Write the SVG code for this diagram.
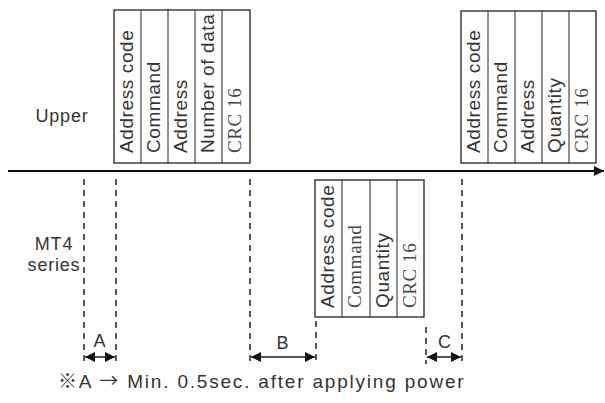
<svg xmlns="http://www.w3.org/2000/svg" width="605" height="403" viewBox="0 0 605 403">
<defs>
<style>
.lbl{font-family:"Liberation Sans",Arial,"Noto Sans CJK KR",sans-serif;font-size:18px;fill:#333;letter-spacing:0.8px}
.foot{font-family:"Liberation Sans",Arial,"Noto Sans CJK KR",sans-serif;font-size:19px;fill:#333;letter-spacing:1.8px}
.cjk{font-family:"Noto Sans CJK KR",sans-serif}
.cell{font-family:"Liberation Sans",Arial,sans-serif;font-size:19px;fill:#333;letter-spacing:0.6px}
.ser{font-family:"Liberation Serif","Times New Roman",serif;font-size:19px;fill:#444;letter-spacing:0.6px}
.box{fill:#fff;stroke:#222;stroke-width:1.3}
.div{stroke:#222;stroke-width:1}
.dash{stroke:#222;stroke-width:1.5;stroke-dasharray:6,5;fill:none}
.dim{stroke:#222;stroke-width:1.5;fill:none}
</style>
<marker id="ah" viewBox="0 0 10 10" refX="10" refY="5" markerWidth="10" markerHeight="10" markerUnits="userSpaceOnUse" orient="auto-start-reverse">
<path d="M0,0 L10,5 L0,10 z" fill="#111"/>
</marker>
<marker id="ax" viewBox="0 0 10 10" refX="10" refY="5" markerWidth="10" markerHeight="10" markerUnits="userSpaceOnUse" orient="auto">
<path d="M0,0 L10,5 L0,10 z" fill="#111"/>
</marker>
</defs>
<rect width="605" height="403" fill="#fff"/>

<g id="label-upper"><text class="lbl" x="62" y="122" text-anchor="middle">Upper</text></g>
<g id="label-mt4"><text class="lbl" x="54" y="250" text-anchor="middle">MT4</text><text class="lbl" x="54" y="271" text-anchor="middle">series</text></g>

<g id="upper-frame-1">
<rect class="box" x="114" y="10" width="136" height="153"/>
<line class="div" x1="141" y1="10" x2="141" y2="163"/>
<line class="div" x1="168" y1="10" x2="168" y2="163"/>
<line class="div" x1="195" y1="10" x2="195" y2="163"/>
<line class="div" x1="222" y1="10" x2="222" y2="163"/>
<text class="cell" transform="translate(133,153) rotate(-90)">Address code</text>
<text class="cell" transform="translate(160,153) rotate(-90)">Command</text>
<text class="cell" transform="translate(187,153) rotate(-90)">Address</text>
<text class="cell" transform="translate(214,153) rotate(-90)" letter-spacing="0.2">Number of data</text>
<text class="ser" transform="translate(241,153) rotate(-90)">CRC 16</text>
</g>

<g id="upper-frame-2">
<rect class="box" x="461" y="11" width="135" height="152"/>
<line class="div" x1="488" y1="11" x2="488" y2="163"/>
<line class="div" x1="515" y1="11" x2="515" y2="163"/>
<line class="div" x1="542" y1="11" x2="542" y2="163"/>
<line class="div" x1="569" y1="11" x2="569" y2="163"/>
<text class="cell" transform="translate(480,153) rotate(-90)">Address code</text>
<text class="cell" transform="translate(507,153) rotate(-90)">Command</text>
<text class="cell" transform="translate(534,153) rotate(-90)">Address</text>
<text class="cell" transform="translate(561,153) rotate(-90)">Quantity</text>
<text class="ser" transform="translate(588,153) rotate(-90)">CRC 16</text>
</g>

<g id="mt4-frame">
<rect class="box" x="315" y="180" width="109" height="137"/>
<line class="div" x1="342" y1="180" x2="342" y2="317"/>
<line class="div" x1="370" y1="180" x2="370" y2="317"/>
<line class="div" x1="397" y1="180" x2="397" y2="317"/>
<text class="cell" transform="translate(334,308) rotate(-90)">Address code</text>
<text class="ser" transform="translate(361,308) rotate(-90)">Command</text>
<text class="cell" transform="translate(389,308) rotate(-90)">Quantity</text>
<text class="ser" transform="translate(416,308) rotate(-90)">CRC 16</text>
</g>

<g id="connectors">
<line x1="8" y1="171" x2="604" y2="171" stroke="#111" stroke-width="2" marker-end="url(#ax)"/>
<line class="dash" x1="84" y1="179" x2="84" y2="364"/>
<line class="dash" x1="116" y1="179" x2="116" y2="364"/>
<line class="dash" x1="250" y1="179" x2="250" y2="364"/>
<line class="dash" x1="316" y1="321" x2="316" y2="364"/>
<line class="dash" x1="426" y1="327" x2="426" y2="364"/>
<line class="dash" x1="462" y1="179" x2="462" y2="364"/>
<line class="dim" x1="85" y1="357" x2="115" y2="357" marker-start="url(#ah)" marker-end="url(#ah)"/>
<line class="dim" x1="251" y1="357" x2="315" y2="357" marker-start="url(#ah)" marker-end="url(#ah)"/>
<line class="dim" x1="427" y1="357" x2="461" y2="357" marker-start="url(#ah)" marker-end="url(#ah)"/>
</g>

<g id="dim-labels">
<text class="lbl" x="100" y="347" text-anchor="middle">A</text>
<text class="lbl" x="283" y="349" text-anchor="middle">B</text>
<text class="lbl" x="445" y="348" text-anchor="middle">C</text>
</g>

<g id="footnote"><text class="foot" x="58" y="388"><tspan class="cjk">※</tspan>A <tspan class="cjk">→</tspan> Min. 0.5sec. after applying power</text></g>
</svg>
